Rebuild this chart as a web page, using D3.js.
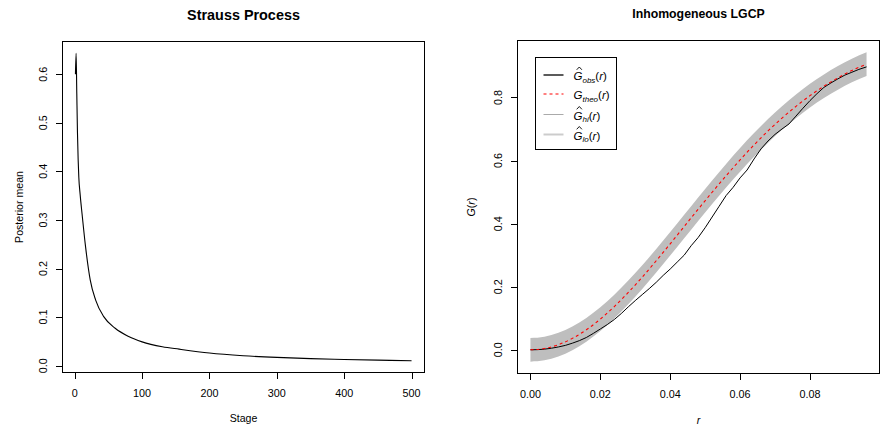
<!DOCTYPE html>
<html>
<head>
<meta charset="utf-8">
<script src="https://cdn.jsdelivr.net/npm/d3@7"></script>
<style>
  html, body { margin: 0; padding: 0; background: #fff; }
  svg { display: block; }
  text { font-family: "Liberation Sans", Arial, Helvetica, sans-serif; fill: #000; }
</style>
</head>
<body>
<svg id="chart" width="883" height="434"></svg>
<script>
// ---------- Data: left panel (Strauss Process) ----------
const stages = [1, 2, 3, 4, 5, 6, 8, 11, 16, 23, 31, 43, 60, 80, 100, 130, 155, 200, 250, 300, 350, 400, 450, 500];
const posteriorMean = [0.600, 0.643, 0.560, 0.480, 0.425, 0.388, 0.352, 0.310, 0.245, 0.176, 0.135, 0.101, 0.077, 0.060, 0.049, 0.039, 0.034, 0.026, 0.0205, 0.0170, 0.0145, 0.0127, 0.0113, 0.0102];
const leftXTicks = [0, 100, 200, 300, 400, 500];
const leftYTicks = [0.0, 0.1, 0.2, 0.3, 0.4, 0.5, 0.6];

// ---------- Data: right panel (Inhomogeneous LGCP) ----------
const rBand = [0, 0.004, 0.008, 0.012, 0.016, 0.020, 0.024, 0.028, 0.032, 0.036, 0.040, 0.044, 0.048, 0.052, 0.056, 0.060, 0.064, 0.068, 0.072, 0.076, 0.080, 0.084, 0.088, 0.092, 0.0962];
const gTheo = [0, 0.0041, 0.0163, 0.0362, 0.0634, 0.0973, 0.1371, 0.1819, 0.2306, 0.2823, 0.3361, 0.3908, 0.4456, 0.4995, 0.5519, 0.6021, 0.6496, 0.6939, 0.7348, 0.7720, 0.8057, 0.8357, 0.8623, 0.8855, 0.9055];
const gHi = [0.0375, 0.0416, 0.0538, 0.0737, 0.1009, 0.1348, 0.1746, 0.2194, 0.2681, 0.3198, 0.3736, 0.4283, 0.4831, 0.5370, 0.5894, 0.6396, 0.6871, 0.7314, 0.7723, 0.8095, 0.8432, 0.8732, 0.8998, 0.9230, 0.9430];
const gLo = [-0.0375, -0.0334, -0.0212, -0.0013, 0.0259, 0.0598, 0.0996, 0.1444, 0.1931, 0.2448, 0.2986, 0.3533, 0.4081, 0.4620, 0.5144, 0.5646, 0.6121, 0.6564, 0.6973, 0.7345, 0.7682, 0.7982, 0.8248, 0.8480, 0.8680];
const rObs = [0, 0.002, 0.004, 0.006, 0.008, 0.010, 0.012, 0.014, 0.016, 0.018, 0.020, 0.022, 0.024, 0.026, 0.028, 0.030, 0.032, 0.034, 0.036, 0.038, 0.040, 0.042, 0.044, 0.046, 0.048, 0.050, 0.052, 0.054, 0.056, 0.058, 0.060, 0.062, 0.064, 0.066, 0.068, 0.070, 0.072, 0.074, 0.076, 0.078, 0.080, 0.082, 0.084, 0.086, 0.088, 0.090, 0.092, 0.094, 0.0962];
const gObs = [0, 0.0005, 0.002, 0.005, 0.009, 0.014, 0.021, 0.029, 0.039, 0.052, 0.066, 0.080, 0.096, 0.115, 0.136, 0.156, 0.175, 0.194, 0.214, 0.236, 0.256, 0.278, 0.300, 0.330, 0.356, 0.387, 0.421, 0.455, 0.489, 0.515, 0.545, 0.570, 0.605, 0.637, 0.662, 0.683, 0.700, 0.716, 0.741, 0.766, 0.790, 0.812, 0.832, 0.846, 0.859, 0.871, 0.880, 0.889, 0.897];
const rightXTicks = [0.00, 0.02, 0.04, 0.06, 0.08];
const rightYTicks = [0.0, 0.2, 0.4, 0.6, 0.8];

const svg = d3.select("#chart");
const TICK_FS = 10.8, LAB_FS = 10.6;

function rExtent(arrs) {
  const lo = d3.min(arrs, a => d3.min(a)), hi = d3.max(arrs, a => d3.max(a));
  const pad = (hi - lo) * 0.04;
  return [lo - pad, hi + pad];
}

function drawFrame(g, box, x, y, xTicks, yTicks, xFmt, yFmt) {
  g.append("g").selectAll("line").data(xTicks).join("line")
    .attr("x1", d => Math.round(x(d)) + 0.5).attr("x2", d => Math.round(x(d)) + 0.5)
    .attr("y1", box.b).attr("y2", box.b + 6)
    .attr("stroke", "#000").attr("stroke-width", 1);
  g.append("g").selectAll("text").data(xTicks).join("text")
    .attr("x", d => x(d)).attr("y", box.b + 20)
    .attr("text-anchor", "middle").attr("dominant-baseline", "central")
    .attr("font-size", TICK_FS).text(xFmt);
  g.append("g").selectAll("line").data(yTicks).join("line")
    .attr("y1", d => Math.round(y(d)) + 0.5).attr("y2", d => Math.round(y(d)) + 0.5)
    .attr("x1", box.l).attr("x2", box.l - 6)
    .attr("stroke", "#000").attr("stroke-width", 1);
  g.append("g").selectAll("text").data(yTicks).join("text")
    .attr("transform", d => `translate(${box.l - 19},${y(d)}) rotate(-90)`)
    .attr("text-anchor", "middle").attr("dominant-baseline", "central")
    .attr("font-size", TICK_FS).text(yFmt);
  g.append("rect")
    .attr("x", box.l + 0.5).attr("y", box.t + 0.5)
    .attr("width", box.r - box.l - 1).attr("height", box.b - box.t - 1)
    .attr("fill", "none").attr("stroke", "#000").attr("stroke-width", 1);
}

// ================= LEFT PANEL =================
{
  const box = { l: 62, r: 425, t: 41, b: 373 };
  const x = d3.scaleLinear().domain(rExtent([stages])).range([box.l, box.r]);
  const y = d3.scaleLinear().domain(rExtent([posteriorMean])).range([box.b, box.t]);
  const g = svg.append("g");

  const pts = stages.map((s, i) => [s, posteriorMean[i]]);
  g.append("path").datum(pts)
    .attr("d", d3.line().x(d => x(d[0])).y(d => y(d[1])).curve(d3.curveMonotoneX))
    .attr("fill", "none").attr("stroke", "#000").attr("stroke-width", 1.1);

  drawFrame(g, box, x, y, leftXTicks, leftYTicks, d => d3.format("d")(d), d => d3.format(".1f")(d));

  g.append("text").attr("x", (box.l + box.r) / 2).attr("y", 15)
    .attr("text-anchor", "middle").attr("dominant-baseline", "central")
    .attr("font-size", 14.4).attr("font-weight", "bold").text("Strauss Process");
  g.append("text").attr("x", (box.l + box.r) / 2).attr("y", 418)
    .attr("text-anchor", "middle").attr("dominant-baseline", "central")
    .attr("font-size", LAB_FS).text("Stage");
  g.append("text").attr("transform", `translate(18.5,${(box.t + box.b) / 2}) rotate(-90)`)
    .attr("text-anchor", "middle").attr("dominant-baseline", "central")
    .attr("font-size", LAB_FS).text("Posterior mean");
}

// ================= RIGHT PANEL =================
{
  const box = { l: 517, r: 880, t: 40, b: 374 };
  const x = d3.scaleLinear().domain(rExtent([rBand, rObs])).range([box.l, box.r]);
  const y = d3.scaleLinear().domain(rExtent([gHi, gLo, gObs, gTheo])).range([box.b, box.t]);
  const g = svg.append("g");

  const band = rBand.map((r, i) => ({ r, hi: gHi[i], lo: gLo[i] }));
  g.append("path").datum(band)
    .attr("d", d3.area().x(d => x(d.r)).y0(d => y(d.lo)).y1(d => y(d.hi)).curve(d3.curveMonotoneX))
    .attr("fill", "#bebebe").attr("stroke", "none");

  const obs = rObs.map((r, i) => [r, gObs[i]]);
  g.append("path").datum(obs)
    .attr("d", d3.line().x(d => x(d[0])).y(d => y(d[1])))
    .attr("fill", "none").attr("stroke", "#000").attr("stroke-width", 1);

  const theo = rBand.map((r, i) => [r, gTheo[i]]);
  g.append("path").datum(theo)
    .attr("d", d3.line().x(d => x(d[0])).y(d => y(d[1])).curve(d3.curveMonotoneX))
    .attr("fill", "none").attr("stroke", "#ff0000").attr("stroke-width", 1.1)
    .attr("stroke-dasharray", "3,3");

  drawFrame(g, box, x, y, rightXTicks, rightYTicks, d => d3.format(".2f")(d), d => d3.format(".1f")(d));

  g.append("text").attr("x", (box.l + box.r) / 2).attr("y", 14)
    .attr("text-anchor", "middle").attr("dominant-baseline", "central")
    .attr("font-size", 12.3).attr("font-weight", "bold").text("Inhomogeneous LGCP");
  g.append("text").attr("x", (box.l + box.r) / 2).attr("y", 420)
    .attr("text-anchor", "middle").attr("dominant-baseline", "central")
    .attr("font-size", LAB_FS).attr("font-style", "italic").text("r");
  const yl = g.append("text").attr("transform", `translate(470.5,${(box.t + box.b) / 2}) rotate(-90)`)
    .attr("text-anchor", "middle").attr("dominant-baseline", "central")
    .attr("font-size", LAB_FS).attr("font-style", "italic");
  yl.append("tspan").text("G");
  yl.append("tspan").attr("font-style", "normal").text("(");
  yl.append("tspan").text("r");
  yl.append("tspan").attr("font-style", "normal").text(")");

  // legend
  const lg = g.append("g");
  const lb = { l: box.l + 18, t: box.t + 17, w: 81, h: 92 };
  lg.append("rect").attr("x", lb.l + 0.5).attr("y", lb.t + 0.5).attr("width", lb.w).attr("height", lb.h)
    .attr("fill", "#fff").attr("stroke", "#000").attr("stroke-width", 1);
  const items = [
    { sub: "obs", hat: true, color: "#333", w: 1.6, dash: null, yy: 75 },
    { sub: "theo", hat: false, color: "#ff0000", w: 1.1, dash: "3,3", yy: 94 },
    { sub: "hi", hat: true, color: "#aaaaaa", w: 1, dash: null, yy: 114.5 },
    { sub: "lo", hat: true, color: "#cccccc", w: 2, dash: null, yy: 134.5 }
  ];
  items.forEach(it => {
    lg.append("line").attr("x1", 543.5).attr("x2", 563.5).attr("y1", it.yy).attr("y2", it.yy)
      .attr("stroke", it.color).attr("stroke-width", it.w).attr("stroke-dasharray", it.dash);
    const tx = 573.5, base = it.yy + 5;
    const t = lg.append("text").attr("x", tx).attr("y", base).attr("font-size", 11.5).attr("font-style", "italic");
    t.append("tspan").text("G");
    t.append("tspan").attr("font-size", 8).attr("dy", 2.5).text(it.sub);
    t.append("tspan").attr("font-style", "normal").attr("dy", -2.5).text("(");
    t.append("tspan").text("r");
    t.append("tspan").attr("font-style", "normal").text(")");
    if (it.hat) {
      const cx = tx + 5.8, top = base - 13;
      lg.append("path")
        .attr("d", `M${cx - 2.6},${top + 2.8}L${cx},${top}L${cx + 2.6},${top + 2.8}`)
        .attr("fill", "none").attr("stroke", "#000").attr("stroke-width", 0.9);
    }
  });
}
</script>
</body>
</html>
